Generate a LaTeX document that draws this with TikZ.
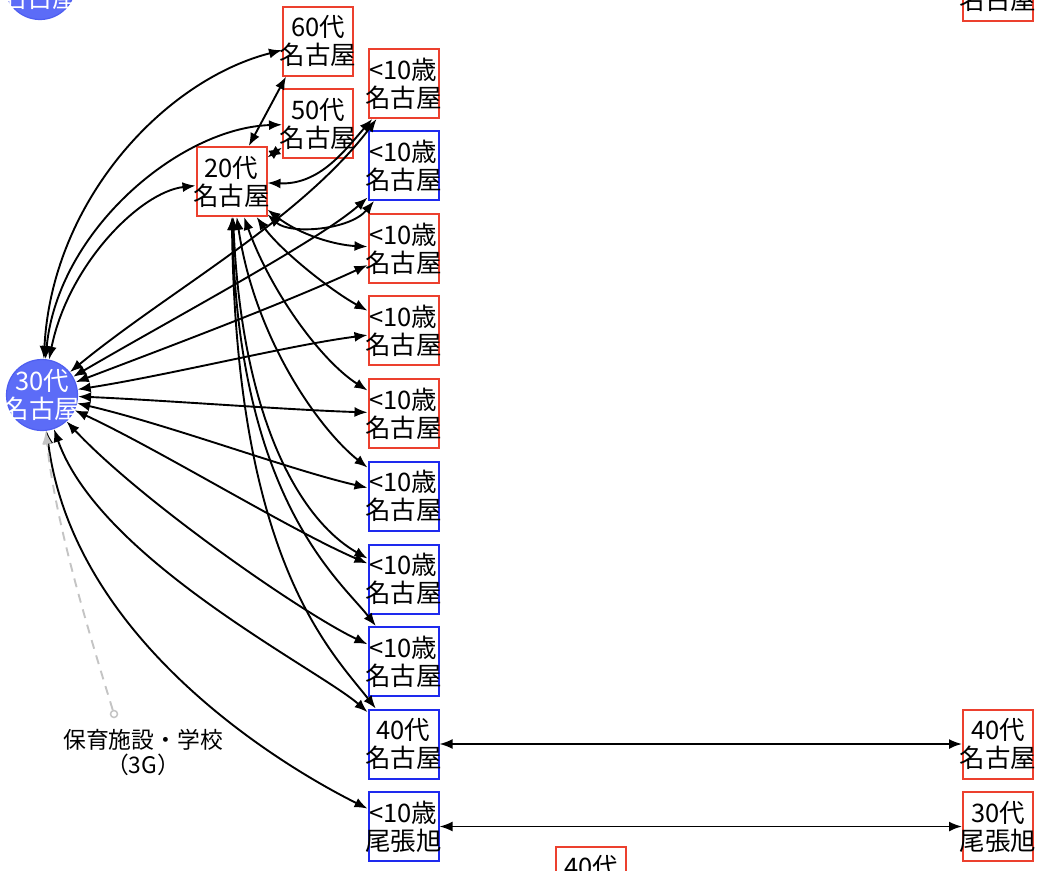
\documentclass[tikz,border=0pt]{standalone}
\usepackage{fontspec}
\setmainfont{Noto Sans CJK JP}
\usetikzlibrary{arrows.meta}
\definecolor{myred}{RGB}{236,64,46}
\definecolor{myblue}{RGB}{30,42,238}
\definecolor{mycirc}{RGB}{92,108,247}
\definecolor{mycircd}{RGB}{78,94,240}
\definecolor{mygrey}{RGB}{196,196,196}
\newcommand\twol[2]{\makebox[0pt]{#1}\\\makebox[0pt]{#2}}
\tikzset{
  basebox/.style={rectangle, minimum width=70pt, minimum height=69pt, inner sep=0pt,
    line width=2pt, fill=white, align=center, font=\fontsize{25.5}{28}\selectfont},
  rbox/.style={basebox, draw=myred},
  bbox/.style={basebox, draw=myblue},
  bcirc/.style={circle, minimum size=71pt, inner sep=0pt, fill=mycirc, draw=mycircd,
    line width=1.2pt, text=white, align=center, font=\fontsize{25.5}{28}\selectfont},
  edge/.style={line width=1.9pt, {Latex[length=13pt,width=10pt]}-{Latex[length=13pt,width=10pt]}},
  gedge/.style={line width=1.9pt, mygrey, dash pattern=on 9pt off 7pt, -{Latex[length=13pt,width=10pt]}},
  lbl/.style={align=center, font=\fontsize{22.8}{25}\selectfont},
}
\begin{document}
\begin{tikzpicture}[x=1pt,y=-1pt]
\useasboundingbox (0,0) rectangle (1044,870);
\clip (0,0) rectangle (1044,870);
% nodes
\node[bcirc] (tl) at (40,-16) {\twol{\phantom{00代}}{名古屋}};
\node[rbox] (tr) at (998,-14) {\twol{\phantom{00代}}{名古屋}};
\node[bcirc] (B) at (42,395) {\twol{30代}{名古屋}};
\node[rbox] (n60) at (318,41) {\twol{60代}{名古屋}};
\node[rbox] (n50) at (318,123.5) {\twol{50代}{名古屋}};
\node[rbox] (n20) at (231.5,181.5) {\twol{20代}{名古屋}};
\node[rbox] (b1) at (403.5,83.5) {\twol{<10歳}{名古屋}};
\node[bbox] (b2) at (403.5,165.5) {\twol{<10歳}{名古屋}};
\node[rbox] (b3) at (403.5,248.5) {\twol{<10歳}{名古屋}};
\node[rbox] (b4) at (403.5,330.5) {\twol{<10歳}{名古屋}};
\node[rbox] (b5) at (403.5,413.5) {\twol{<10歳}{名古屋}};
\node[bbox] (b6) at (403.5,496) {\twol{<10歳}{名古屋}};
\node[bbox] (b7) at (403.5,579) {\twol{<10歳}{名古屋}};
\node[bbox] (b8) at (403.5,661.5) {\twol{<10歳}{名古屋}};
\node[bbox] (f40) at (403.5,744) {\twol{40代}{名古屋}};
\node[bbox] (ow) at (403.5,826.5) {\twol{<10歳}{尾張旭}};
\node[rbox] (r40) at (998,744) {\twol{40代}{名古屋}};
\node[rbox] (r30) at (998,826.5) {\twol{30代}{尾張旭}};
\node[rbox] (r40b) at (591,881) {\twol{40代}{\phantom{名古屋}}};
\node[circle, draw=mygrey, fill=white, line width=1.5pt, minimum size=7pt, inner sep=0pt] (lc) at (114,714) {};
\node[lbl] (lab) at (143,752) {保育施設・学校\\（3G）};
% edges from 30代
\draw[edge] (B) .. controls (52,200) and (165,80) .. (n60);
\draw[edge] (B) .. controls (58,230) and (180,128) .. (n50);
\draw[edge] (B) .. controls (68,265) and (140,192) .. (n20);
\draw[edge] (B) .. controls (170,290) and (300,220) .. (b1);
\draw[edge] (B) .. controls (170,320) and (320,240) .. (b2);
\draw[edge] (B) .. controls (160,350) and (283,304) .. (b3);
\draw[edge] (B) .. controls (170,375) and (290,345) .. (b4);
\draw[edge] (B) .. controls (160,400) and (290,410) .. (b5);
\draw[edge] (B) .. controls (170,425) and (290,470) .. (b6);
\draw[edge] (B) .. controls (160,450) and (290,530) .. (b7);
\draw[edge] (B) .. controls (140,500) and (300,612) .. (b8);
\draw[edge] (B) .. controls (100,560) and (320,670) .. (f40);
\draw[edge] (B) .. controls (75,650) and (300,775) .. (ow);
% edges from 20代
\draw[edge] (n20.64) -- (n60.228);
\draw[edge] (n20) -- (n50);
\draw[edge] (n20) .. controls (320,185) and (345,150) .. (b1);
\draw[edge] (n20) .. controls (290,235) and (350,230) .. (b2);
\draw[edge] (n20) .. controls (300,235) and (335,245) .. (b3);
\draw[edge] (n20) .. controls (280,250) and (330,290) .. (b4);
\draw[edge] (n20) .. controls (270,290) and (320,360) .. (b5);
\draw[edge] (n20) .. controls (255,340) and (320,430) .. (b6);
\draw[edge] (n20) .. controls (242,420) and (300,520) .. (b7);
\draw[edge] (n20) .. controls (238,500) and (340,580) .. (b8);
\draw[edge] (n20) .. controls (236,560) and (330,650) .. (f40);
% horizontal links
\draw[edge] (f40) -- (r40);
\draw[edge] (ow) -- (r30);
% dashed label link
\draw[gedge] (lc) .. controls (85,620) and (55,520) .. (B);
\end{tikzpicture}
\end{document}
